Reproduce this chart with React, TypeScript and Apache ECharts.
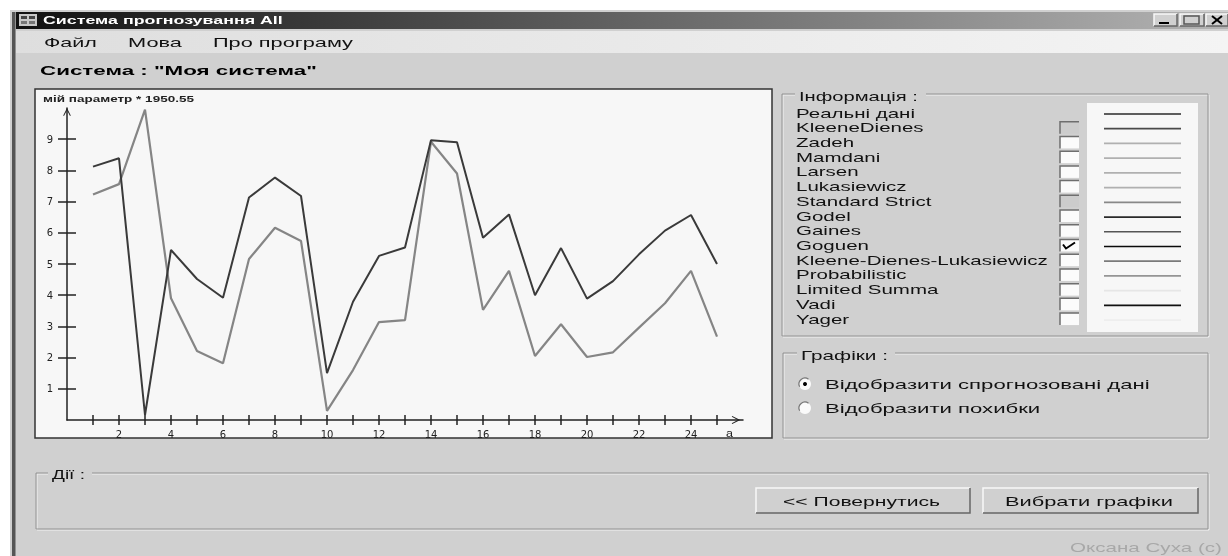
import React, { useEffect, useRef } from "react";
import * as echarts from "echarts";

const xValues = [1, 2, 3, 4, 5, 6, 7, 8, 9, 10, 11, 12, 13, 14, 15, 16, 17, 18, 19, 20, 21, 22, 23, 24, 25];
const goguenValues = [8.12, 8.39, 0.16, 5.45, 4.52, 3.92, 7.13, 7.77, 7.18, 1.5, 3.79, 5.26, 5.53, 8.97, 8.9, 5.84, 6.59, 4.0, 5.51, 3.89, 4.45, 5.31, 6.07, 6.57, 5.0];
const realValues = [7.23, 7.56, 9.95, 3.9, 2.21, 1.82, 5.16, 6.16, 5.74, 0.29, 1.6, 3.14, 3.2, 8.92, 7.9, 3.53, 4.78, 2.05, 3.07, 2.02, 2.17, 2.96, 3.74, 4.78, 2.67];
const xTickValues = xValues;
const xLabelValues = [2, 4, 6, 8, 10, 12, 14, 16, 18, 20, 22, 24];
const yTickValues = [1, 2, 3, 4, 5, 6, 7, 8, 9];

const legendNames = ["Реальні дані", "KleeneDienes", "Zadeh", "Mamdani", "Larsen", "Lukasiewicz", "Standard Strict", "Godel", "Gaines", "Goguen", "Kleene-Dienes-Lukasiewicz", "Probabilistic", "Limited Summa", "Vadi", "Yager"];
const legendColors = ["#2a2a2a", "#4a4a4a", "#b0b0b0", "#b0b0b0", "#b0b0b0", "#b0b0b0", "#888888", "#2a2a2a", "#555555", "#0a0a0a", "#7a7a7a", "#959595", "#e6e6e6", "#111111", "#eeeeee"];
const greyedBoxes = ["KleeneDienes", "Standard Strict"];
const checkedBox = "Goguen";

const SANS = "Liberation Sans";
const measureCtx = document.createElement("canvas").getContext("2d") as CanvasRenderingContext2D;
function measure(s: string, size: number, weight: string) {
  measureCtx.font = `${weight} ${size}px "${SANS}"`;
  return measureCtx.measureText(s).width;
}
function text(s: string, x: number, cy: number, size: number, scaleX: number, fill = "#111", weight = "normal") {
  return {
    type: "text", x, y: cy, scaleX, silent: true,
    style: { text: s, fontSize: size, fontFamily: SANS, fontWeight: weight, fill, align: "left", verticalAlign: "middle" },
  };
}
function fit(s: string, x0: number, x1: number, cy: number, size: number, fill = "#111", weight = "normal") {
  return text(s, x0, cy, size, (x1 - x0) / measure(s, size, weight), fill, weight);
}
function rect(x: number, y: number, w: number, h: number, fill: string, stroke?: string, lineWidth = 1) {
  return { type: "rect", silent: true, shape: { x, y, width: w, height: h }, style: { fill, stroke, lineWidth } };
}
function gradientRect(x: number, y: number, w: number, h: number, from: string, to: string) {
  return {
    type: "rect", silent: true, shape: { x, y, width: w, height: h },
    style: { fill: new echarts.graphic.LinearGradient(0, 0, 1, 0, [{ offset: 0, color: from }, { offset: 1, color: to }]) },
  };
}
function poly(points: number[][], stroke: string, lineWidth = 1) {
  return { type: "polyline", silent: true, shape: { points }, style: { stroke, lineWidth, fill: "transparent" } };
}
function groupBox(l: number, t: number, r: number, b: number, gapL: number, gapR: number) {
  const pts = (d: number) => [[gapR, t + d], [r + d, t + d], [r + d, b + d], [l + d, b + d], [l + d, t + d], [gapL, t + d]];
  return [poly(pts(1), "#f2f2f2"), poly(pts(0), "#929292")];
}
function button(l: number, t: number, r: number, b: number) {
  return [
    rect(l, t, r - l, b - t, "#d0d0d0"),
    poly([[l, b], [l, t], [r, t]], "#f8f8f8", 1.5),
    poly([[l, b], [r, b], [r, t]], "#666666", 1.5),
  ];
}
function checkbox(name: string, cy: number) {
  const l = 1060, r = 1079, t = cy - 6, b = cy + 6;
  const out: any[] = [
    rect(l, t, r - l, b - t, greyedBoxes.includes(name) ? "#cccccc" : "#fbfbfb"),
    poly([[l, b], [l, t], [r, t]], "#6e6e6e", 1.5),
  ];
  if (name === checkedBox) out.push(poly([[l + 3, cy - 1], [l + 6, cy + 3], [l + 15, cy - 3]], "#000", 2));
  return out;
}
function radio(cx: number, cy: number, on: boolean) {
  const out: any[] = [
    { type: "circle", silent: true, shape: { cx, cy, r: 6 }, style: { fill: "#fafafa" } },
    { type: "arc", silent: true, shape: { cx, cy, r: 6, startAngle: Math.PI * 0.85, endAngle: Math.PI * 1.7 }, style: { stroke: "#777", lineWidth: 1.2, fill: "transparent" } },
  ];
  if (on) out.push({ type: "circle", silent: true, shape: { cx, cy, r: 2 }, style: { fill: "#000" } });
  return out;
}
function chrome() {
  const e: any[] = [];
  // page and window
  e.push(rect(0, 0, 1228, 556, "#ffffff"));
  e.push(rect(10, 10, 1218, 546, "#d0d0d0"));
  e.push(rect(12, 12, 3.5, 544, "#555555"));
  e.push(gradientRect(16, 12, 1212, 17, "#111111", "#b4b4b4"));
  e.push(gradientRect(16, 31, 1212, 22, "#dedede", "#f4f4f4"));
  // title bar icon
  e.push(rect(19, 14, 18, 12, "#c8c8c8"));
  e.push(rect(21, 16, 6, 3, "#444"), rect(29, 16, 6, 3, "#444"), rect(21, 21, 6, 3, "#777"), rect(29, 21, 6, 3, "#777"));
  e.push(fit("Система прогнозування All", 43, 283, 19.5, 11.5, "#ffffff", "bold"));
  // window buttons
  e.push(...button(1154, 14, 1177, 26), ...button(1180, 14, 1204, 26), ...button(1206, 14, 1228, 26));
  e.push(rect(1159, 22, 10, 2, "#000"));
  e.push(rect(1184, 16, 15, 8, "transparent", "#555", 1.5));
  e.push(poly([[1212, 16], [1222, 24]], "#000", 2), poly([[1222, 16], [1212, 24]], "#000", 2));
  // menu
  e.push(fit("Файл", 44, 97, 43, 13), fit("Мова", 128, 182, 43, 13), fit("Про програму", 213, 353, 43, 13));
  e.push(fit('Система : "Моя система"', 40, 317, 70, 13, "#000", "bold"));
  // chart panel
  e.push(rect(35, 89, 737, 349, "#f7f7f7", "#333333", 1.5));
  e.push(fit("мій параметр * 1950.55", 43, 194, 99, 9, "#222", "bold"));
  e.push(fit("a", 726, 733, 433, 10, "#222"));
  // legend box
  e.push(...groupBox(782, 94, 1208, 336, 795, 926));
  e.push(fit("Інформація :", 799, 918, 97, 13));
  e.push(rect(1087, 103, 111, 229, "#f7f7f7"));
  const sx = 252 / measure("Kleene-Dienes-Lukasiewicz", 13, "normal");
  legendNames.forEach((name, i) => {
    const cy = 113 + i * 14.72;
    e.push(text(name, 796, cy, 13, sx));
    if (i > 0) e.push(...checkbox(name, cy));
    e.push(poly([[1104, cy + 1], [1181, cy + 1]], legendColors[i], 1.7));
  });
  // graphs box
  e.push(...groupBox(783, 353, 1208, 438, 797, 895));
  e.push(fit("Графіки :", 801, 888, 355, 13));
  e.push(...radio(805, 384, true), ...radio(805, 408, false));
  const rx = 325 / measure("Відобразити спрогнозовані дані", 13, "normal");
  e.push(text("Відобразити спрогнозовані дані", 825, 385, 13, rx));
  e.push(text("Відобразити похибки", 825, 409, 13, rx));
  // actions box
  e.push(...groupBox(36, 473, 1208, 529, 48, 92));
  e.push(fit("Дії :", 52, 85, 475, 12));
  e.push(...button(756, 488, 970, 513), ...button(983, 488, 1198, 513));
  e.push(fit("<< Повернутись", 783, 940, 502, 13));
  e.push(fit("Вибрати графіки", 1005, 1173, 502, 13));
  e.push(fit("Оксана Суха (с)", 1070, 1222, 548, 12, "#a8a8a8"));
  return e;
}

const chevronUp = "path://M0 10 L5 0 L10 10 L9 10.6 L5 3 L1 10.6 Z";
const axisLine = (size: number[], back: number) => ({
  show: true, symbol: ["none", chevronUp], symbolSize: size, symbolOffset: [0, back], lineStyle: { color: "#222222", width: 1.5 },
});
const labelFont = { fontFamily: "DejaVu Sans", fontSize: 10, color: "#222222" };

export default function App() {
  const ref = useRef<HTMLDivElement>(null);
  useEffect(() => {
    const chart = echarts.init(ref.current as HTMLDivElement, undefined, { renderer: "svg" });
    const toPoints = (ys: number[]) => xValues.map((x, i) => [x, ys[i]]);
    chart.setOption({
      animation: false,
      grid: { left: 67, top: 108, width: 676, height: 312, containLabel: false },
      xAxis: [
        {
          type: "value", min: 0, max: 26, position: "bottom", z: 5, splitLine: { show: false },
          axisLine: axisLine([8, 13], -7),
          axisTick: { show: true, inside: false, length: 5, customValues: xTickValues, lineStyle: { color: "#222", width: 1.5 } },
          axisLabel: { ...labelFont, margin: 9, customValues: xLabelValues },
        },
        {
          type: "value", min: 0, max: 26, position: "bottom", z: 5, splitLine: { show: false },
          axisLine: { show: false },
          axisTick: { show: true, inside: true, length: 5, customValues: xTickValues, lineStyle: { color: "#222", width: 1.5 } },
          axisLabel: { show: false },
        },
      ],
      yAxis: [
        {
          type: "value", min: 0, max: 10, position: "left", z: 5, splitLine: { show: false },
          axisLine: axisLine([10, 8], -4),
          axisTick: { show: true, inside: false, length: 9, customValues: yTickValues, lineStyle: { color: "#222", width: 1.5 } },
          axisLabel: { ...labelFont, margin: 14, customValues: yTickValues },
        },
        {
          type: "value", min: 0, max: 10, position: "left", z: 5, splitLine: { show: false },
          axisLine: { show: false },
          axisTick: { show: true, inside: true, length: 9, customValues: yTickValues, lineStyle: { color: "#222", width: 1.5 } },
          axisLabel: { show: false },
        },
      ],
      series: [
        { name: "Реальні дані", type: "line", z: 10, symbol: "none", data: toPoints(realValues), lineStyle: { color: "#858585", width: 2.2 } },
        { name: "Goguen", type: "line", z: 11, symbol: "none", data: toPoints(goguenValues), lineStyle: { color: "#3a3a3a", width: 2 } },
      ],
      graphic: { elements: chrome() },
    });
    return () => chart.dispose();
  }, []);
  return <div ref={ref} style={{ position: "absolute", left: 0, top: 0, width: 1228, height: 556, filter: "blur(0.4px)" }} />;
}
